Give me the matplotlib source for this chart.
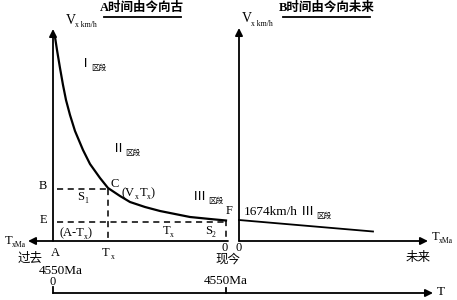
import matplotlib
matplotlib.use('Agg')
import matplotlib.pyplot as plt

# schematic drawn in picture units (x to the right, y downward)
curve_x = [55, 57, 60, 63, 66, 70, 75, 83, 90, 100, 108, 120, 130, 145, 160, 175, 190, 210, 226]
curve_y = [37, 50, 68, 85, 100, 115, 131, 150, 164, 178, 188, 196, 202, 207, 211, 214, 217, 219, 220.5]
future_x = [239, 373]
future_y = [220, 231.5]

x_A, x_Tx, x_F, x_now = 53, 108, 226, 239
y_axis, y_B, y_E = 241, 189, 222

plt.rcParams['font.family'] = ['Liberation Serif', 'Noto Sans CJK SC']
fig = plt.figure(figsize=(4.57, 3.0), dpi=100)
ax = fig.add_axes([0, 0, 1, 1])
ax.set_xlim(0, 457)
ax.set_ylim(300, 0)
ax.axis('off')

def arrow(x0, y0, x1, y1):
    ax.annotate('', xy=(x1, y1), xytext=(x0, y0),
                arrowprops=dict(arrowstyle='-|>', color='black', lw=1.3,
                                mutation_scale=11, shrinkA=0, shrinkB=0))

# axes
arrow(x_A, y_axis, x_A, 29)
arrow(x_F + 2, y_axis, 28, y_axis)
arrow(x_now, y_axis, x_now, 28)
arrow(x_now, y_axis, 428, y_axis)
arrow(x_A, 293, 433, 293)
ax.plot([x_A, x_A], [287, 293], color='black', lw=1.3)
ax.plot([x_F, x_F], [288, 293], color='black', lw=1.3)

# curves
ax.plot(curve_x, curve_y, color='black', lw=1.6)
ax.plot(future_x, future_y, color='black', lw=1.3)

# dashed guides
dash = dict(color='black', lw=1.1, ls=(0, (4, 3)))
ax.plot([x_A + 4, x_Tx], [y_B, y_B], **dash)
ax.plot([x_Tx, x_Tx], [y_B, y_axis], **dash)
ax.plot([x_A + 4, x_F], [y_E, y_E], **dash)
ax.plot([x_F, x_F], [y_E - 2, y_axis], **dash)

def t(x, y, s, size=9, **kw):
    ax.text(x, y, s, fontsize=size, ha=kw.pop('ha', 'left'), va=kw.pop('va', 'center'), **kw)

# titles
t(142, 8, 'A时间由今向古', 9, ha='center', weight='bold')
ax.plot([104, 181], [16.5, 16.5], color='black', lw=1.3)
t(327, 8, 'B时间由今向未来', 9, ha='center', weight='bold')
ax.plot([283, 370], [16.5, 16.5], color='black', lw=1.3)

# velocity labels
t(66, 20, 'V', 10)
t(75, 25, 'x km/h', 5.5)
t(242, 19, 'V', 10)
t(251, 24, 'x km/h', 5.5)

# stage labels
t(79, 64, 'Ⅰ', 9.5)
t(91, 68, '区段', 5.5)
t(112, 149, 'Ⅱ', 9.5)
t(125, 153, '区段', 5.5)
t(193, 197, 'Ⅲ', 9.5)
t(208, 201, '区段', 5.5)
t(301, 212, 'Ⅲ', 9.5)
t(316, 216, '区段', 5.5)
t(244, 212, '1674km/h', 9.5)

# point labels
t(43, 186, 'B', 9, ha='center')
t(43, 220, 'E', 9, ha='center')
t(115, 184, 'C', 9, ha='center')
t(122, 193, '(V', 9)
t(135, 197, 'x', 5.5)
t(140, 193, 'T', 9)
t(147, 197, 'x', 5.5)
t(151, 193, ')', 9)
t(77, 197, 'S', 9)
t(84, 201, '1', 5.5)
t(59, 233, '(A-T', 9)
t(84, 237, 'x', 5.5)
t(88, 233, ')', 9)
t(163, 231, 'T', 9)
t(170, 235, 'x', 5.5)
t(205, 231, 'S', 9)
t(212, 235, '2', 5.5)
t(229, 211, 'F', 9, ha='center')

# axis labels
t(5, 241, 'T', 9)
t(12, 245, 'xMa', 5.5)
t(432, 237, 'T', 9)
t(439, 241, 'xMa', 5.5)
t(55, 253, 'A', 9, ha='center')
t(106, 253, 'T', 9, ha='center')
t(111, 257, 'x', 5.5)
t(225, 248, '0', 9, ha='center')
t(239, 248, '0', 9, ha='center')
t(228, 260, '现今', 9, ha='center')
t(30, 259, '过去', 9, ha='center')
t(418, 258, '未来', 9, ha='center')
t(61, 271, '4550Ma', 9.5, ha='center')
t(53, 282, '0', 9, ha='center')
t(226, 281, '4550Ma', 9.5, ha='center')
t(437, 292, 'T', 9.5)

fig.savefig('out.png', dpi=100)
